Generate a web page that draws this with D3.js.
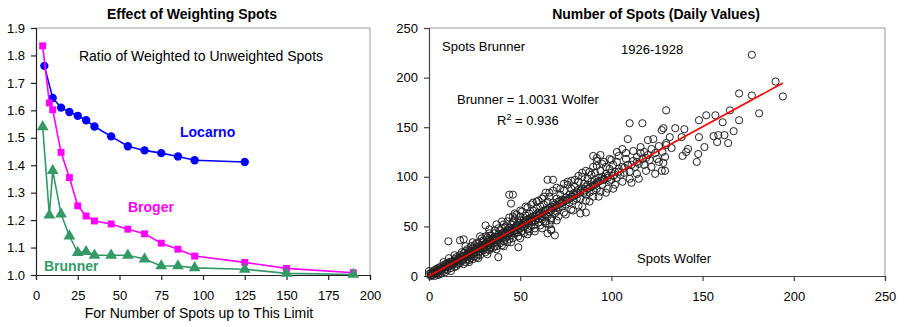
<!DOCTYPE html>
<html><head><meta charset="utf-8">
<script src="https://cdn.jsdelivr.net/npm/d3@7"></script>
<style>
body{margin:0;background:#fff;}
svg{display:block;font-family:Arial,"Liberation Sans",sans-serif;}
</style></head>
<body>
<svg id="c" width="918" height="327"></svg>
<script>
// ---- Left chart data ----
const limitTicks = [0,25,50,75,100,125,150,175,200];
const ratioTicks = [1.0,1.1,1.2,1.3,1.4,1.5,1.6,1.7,1.8,1.9];
const locarnoX = [5,10,15,20,25,30,35,45,55,65,75,85,95,125];
const locarnoY = [1.762,1.645,1.610,1.594,1.580,1.564,1.541,1.505,1.469,1.454,1.444,1.432,1.418,1.412];
const brogerX = [4,8,10,15,20,25,30,35,45,55,65,75,85,95,125,150,190];
const brogerY = [1.835,1.627,1.602,1.447,1.355,1.252,1.215,1.197,1.186,1.167,1.150,1.116,1.094,1.069,1.046,1.024,1.008];
const brunnerX = [4,8,10,15,20,25,30,35,45,55,65,75,85,95,125,150,190];
const brunnerY = [1.540,1.218,1.380,1.222,1.142,1.082,1.085,1.072,1.072,1.072,1.058,1.033,1.033,1.026,1.021,1.006,1.002];

// ---- Right chart data ----
const spotTicks = [0,50,100,150,200,250];
const regressionSlope = 1.0031;
const regressionXMax = 194;
// [Wolfer, Brunner] daily spot counts
const dailySpots = [
[0,2],[0,5],[1,0],[1,3],[2,1],[2,4],[3,2],[3,6],[4,3],[4,7],[5,4],[5,8],[5,1],[6,5],[6,9],[7,6],[7,3],[8,8],[8,11],[9,7],[9,12],[10,9],[10,13],[10,6],[11,10],[11,14],[12,12],[12,8],[13,15],[13,11],[14,13],[14,17],[15,14],[15,10],[15,19],[16,16],[16,12],[17,18],[17,21],[18,15],[18,20],[19,17],[19,23],[20,19],[20,14],[20,25],[21,22],[21,17],[22,20],[22,26],[23,24],[23,18],[24,22],[24,28],[25,26],[25,20],[25,31],[26,24],[26,29],[27,27],[27,22],[27,33],[28,30],[28,25],[29,28],[29,35],[30,31],[30,26],[30,36],[31,29],[31,33],[32,34],[32,27],[32,39],[33,31],[33,37],[34,35],[34,29],[34,41],[35,33],[35,38],[36,36],[36,30],[36,43],[37,39],[37,34],[38,37],[38,42],[39,40],[39,33],[39,46],[40,38],[40,43],[40,48],[41,41],[41,35],[42,44],[42,39],[42,50],[43,46],[43,40],[44,43],[44,49],[44,37],[45,47],[45,52],[45,41],[46,45],[46,55],[47,49],[47,43],[47,58],[48,51],[48,46],[49,54],[49,44],[50,48],[50,56],[50,60],[51,52],[51,45],[52,57],[52,50],[53,55],[53,61],[54,53],[54,47],[55,58],[55,63],[56,55],[56,50],[57,60],[57,66],[58,56],[58,52],[59,62],[59,68],[60,58],[60,64],[60,54],[61,63],[61,70],[62,60],[62,57],[63,66],[63,72],[64,62],[64,55],[65,67],[65,75],[65,60],[66,64],[66,80],[67,70],[67,58],[68,68],[68,74],[69,72],[69,63],[70,71],[70,78],[70,65],[71,75],[71,68],[72,73],[72,82],[73,77],[73,70],[74,76],[74,86],[75,79],[75,72],[76,77],[76,92],[77,82],[77,74],[78,80],[78,88],[79,83],[79,76],[80,82],[80,90],[81,85],[81,78],[82,87],[82,95],[83,84],[83,78],[84,88],[84,100],[85,86],[85,93],[86,90],[86,82],[87,92],[87,98],[88,89],[88,84],[89,95],[89,102],[90,91],[90,86],[91,97],[91,104],[92,94],[92,88],[93,99],[94,96],[94,106],[95,100],[95,92],[96,98],[97,103],[97,110],[98,101],[99,96],[99,108],[100,104],[100,97],[101,112],[102,105],[103,99],[103,115],[104,108],[105,102],[106,110],[107,104],[108,118],[109,112],[110,105],[112,116],[113,110],[114,120],[115,113],[116,124],[117,118],[118,112],[118,125],[120,122],[121,117],[122,128],[124,124],[125,118],[126,131],[128,125],[130,132],
[3,0],[6,2],[9,4],[12,5],[14,9],[17,13],[19,12],[22,16],[24,17],[26,19],[28,21],[31,24],[33,26],[35,28],[37,30],[40,31],[43,34],[46,38],[49,40],[52,43],[55,45],[58,48],[61,51],[64,53],[67,56],[71,60],[74,64],[78,67],[82,71],[86,76],[90,80],[94,85],[98,88],[102,92],
[8,14],[11,18],[14,21],[18,24],[21,27],[23,30],[26,33],[29,38],[31,40],[33,43],[36,46],[38,48],[41,52],[43,55],[46,60],[48,62],[51,65],[54,69],[56,72],[59,75],[62,78],[64,84],[68,86],[72,88],[76,95],[80,97],[84,104],[88,105],[92,111],[96,115],[100,117],[104,121],[108,124],
[1,1],[2,3],[3,4],[4,5],[5,6],[6,7],[7,8],[8,9],[9,10],[10,11],[11,12],[12,14],[13,13],[14,15],[15,16],[16,18],[17,16],[18,19],[19,20],[20,21],[21,20],[22,23],[23,22],[24,25],[25,24],[26,27],[27,29],[28,27],[29,31],[30,29],[31,32],[32,31],[33,35],[34,33],[35,36],[36,39],[37,36],[38,40],[39,38],[40,41],[41,44],[42,41],[43,43],[44,46],[45,44],[46,48],[47,46],[48,49],[49,51],[50,52],[51,50],[52,54],[53,52],[54,57],[55,55],[56,59],[57,56],[58,60],[59,58],[60,61],[62,64],[63,62],[64,67],[66,68],[67,66],[69,70],[70,69],[72,76],[73,74],[75,76],[77,78],[79,80],[81,82],[83,86],[85,84],[87,88],[89,90],[91,92],[93,95],[96,97],[98,99],[101,101],[104,105],[107,109],[111,112],[114,115],[119,119],
[20,30],[24,34],[28,40],[33,47],[37,52],[40,55],[44,59],[47,63],[50,66],[53,70],[57,74],[60,76],[63,80],[66,84],[70,89],[74,93],[78,96],[82,101],[86,106],[90,110],[95,113],[99,118],[103,125],[106,128],[112,126],[116,130],
[22,14],[27,18],[32,22],[37,27],[41,30],[45,34],[50,38],[54,42],[58,45],[62,48],[66,52],[70,56],[75,62],[79,66],[84,70],[88,75],[93,80],[97,84],[101,88],[106,95],[110,98],[114,103],[119,106],[122,110],[126,115],
[177,223],[190,196],[194,181],[177,182],[170,184],[181,164],[170,157],[167,146],[165,167],[164,134],[162,142],[161,155],[157,162],[158,135],[158.6,142],[156,141],[152,162],[151,130],[148,157],[148,140],[147.6,123],[146.8,115],[142,128],[141,125],[140,148],[139,121],[138.5,140],[135,149],[133,129],[132,140],[130,167],[130,134],[128.5,149],[127.6,147],[128.5,114],[129.4,120],[127.6,106],[129.4,106],[124,103],[123,138],[120,137],[117,154],[110,154],[109,138],[115,98],[111,94],[90,121],[92,116],[83,63],[65,97],[44,82],[45,73],[10.6,35],[38,19],[49,29],[65,43],[67,47],[31,51],[17,36],[19,37],[94,122],[92,119],[68,97],[46,82],[86,64],[69,41],[67,46]
];

const svg = d3.select("#c");
const font = "Arial, 'Liberation Sans', sans-serif";

// ================= LEFT CHART =================
const xL = d3.scaleLinear().domain([0,200]).range([36,370]);
const yL = d3.scaleLinear().domain([1.0,1.9]).range([275,28]);
const gL = svg.append("g");

gL.append("path").attr("d",`M${xL(0)},${yL(1.9)}H${xL(200)}V${yL(1.0)}`)
  .attr("fill","none").attr("stroke","#999").attr("stroke-width",1);

const axL = gL.append("g").attr("transform",`translate(0,${yL(1.0)})`)
  .call(d3.axisBottom(xL).tickValues(limitTicks).tickSize(5).tickPadding(11).tickFormat(d3.format("d")));
const ayL = gL.append("g").attr("transform",`translate(${xL(0)},0)`)
  .call(d3.axisLeft(yL).tickValues(ratioTicks).tickSize(5).tickPadding(6).tickFormat(d3.format(".1f")));
[axL,ayL].forEach(a=>{
  a.selectAll("path,line").attr("stroke","#222").attr("stroke-width",1.2);
  a.selectAll("text").attr("font-size",13).attr("fill","#000").attr("font-family",font);
});

const series = [
  {x:locarnoX,y:locarnoY,color:"#0000ff",shape:"circle"},
  {x:brogerX,y:brogerY,color:"#ff00ff",shape:"square"},
  {x:brunnerX,y:brunnerY,color:"#339966",shape:"triangle"}
];
const line = d3.line().x(d=>xL(d[0])).y(d=>yL(d[1]));
series.forEach(s=>{
  const pts = s.x.map((v,i)=>[v,s.y[i]]);
  gL.append("path").datum(pts).attr("d",line).attr("fill","none")
    .attr("stroke",s.color).attr("stroke-width",1.6);
  const sym = s.shape==="circle"?d3.symbolCircle:(s.shape==="square"?d3.symbolSquare:d3.symbolTriangle);
  const size = s.shape==="circle"?55:(s.shape==="square"?48:60);
  gL.append("g").selectAll("path").data(pts).join("path")
    .attr("d",d3.symbol(sym,size))
    .attr("transform",d=>`translate(${xL(d[0])},${yL(d[1])})`)
    .attr("fill",s.color);
});

gL.append("text").attr("x",192).attr("y",19).attr("text-anchor","middle")
  .attr("font-size",14).attr("font-weight","bold").text("Effect of Weighting Spots");
gL.append("text").attr("x",201).attr("y",61).attr("text-anchor","middle")
  .attr("font-size",14).text("Ratio of Weighted to Unweighted Spots");
gL.append("text").attr("x",199).attr("y",318).attr("text-anchor","middle")
  .attr("font-size",14).text("For Number of Spots up to This Limit");
gL.append("text").attr("x",180).attr("y",137).attr("font-size",14).attr("font-weight","bold")
  .attr("fill","#0000ff").text("Locarno");
gL.append("text").attr("x",128).attr("y",212).attr("font-size",14).attr("font-weight","bold")
  .attr("fill","#ff00ff").text("Broger");
gL.append("text").attr("x",44).attr("y",271).attr("font-size",14).attr("font-weight","bold")
  .attr("fill","#339966").text("Brunner");

// ================= RIGHT CHART =================
const xR = d3.scaleLinear().domain([0,250]).range([429,885]);
const yR = d3.scaleLinear().domain([0,250]).range([276,28]);
const gR = svg.append("g");
gR.append("path").attr("d",`M${xR(0)},${yR(250)}H${xR(250)}V${yR(0)}`)
  .attr("fill","none").attr("stroke","#999").attr("stroke-width",1);
const axR = gR.append("g").attr("transform",`translate(0,${yR(0)})`)
  .call(d3.axisBottom(xR).tickValues(spotTicks).tickSize(5).tickPadding(11).tickFormat(d3.format("d")));
const ayR = gR.append("g").attr("transform",`translate(${xR(0)},0)`)
  .call(d3.axisLeft(yR).tickValues(spotTicks).tickSize(5).tickPadding(6).tickFormat(d3.format("d")));
[axR,ayR].forEach(a=>{
  a.selectAll("path,line").attr("stroke","#444").attr("stroke-width",1.2);
  a.selectAll("text").attr("font-size",13).attr("fill","#000").attr("font-family",font);
});

gR.append("g").selectAll("circle").data(dailySpots).join("circle")
  .attr("cx",d=>xR(d[0])).attr("cy",d=>yR(d[1])).attr("r",3.6)
  .attr("fill","none").attr("stroke","#222").attr("stroke-width",1);

gR.append("line").attr("x1",xR(0)).attr("y1",yR(0))
  .attr("x2",xR(regressionXMax)).attr("y2",yR(regressionXMax*regressionSlope))
  .attr("stroke","#ff0000").attr("stroke-width",1.6);

gR.append("text").attr("x",656).attr("y",19).attr("text-anchor","middle")
  .attr("font-size",14).attr("font-weight","bold").text("Number of Spots (Daily Values)");
gR.append("text").attr("x",442).attr("y",51).attr("font-size",13).text("Spots Brunner");
gR.append("text").attr("x",621).attr("y",54).attr("font-size",13).text("1926-1928");
gR.append("text").attr("x",457).attr("y",104).attr("font-size",13).text("Brunner = 1.0031 Wolfer");
const r2 = gR.append("text").attr("x",497).attr("y",125).attr("font-size",13);
r2.append("tspan").text("R");
r2.append("tspan").attr("dy",-5).attr("font-size",9).text("2");
r2.append("tspan").attr("dy",5).text(" = 0.936");
gR.append("text").attr("x",637).attr("y",263).attr("font-size",13).text("Spots Wolfer");
</script>
</body></html>
